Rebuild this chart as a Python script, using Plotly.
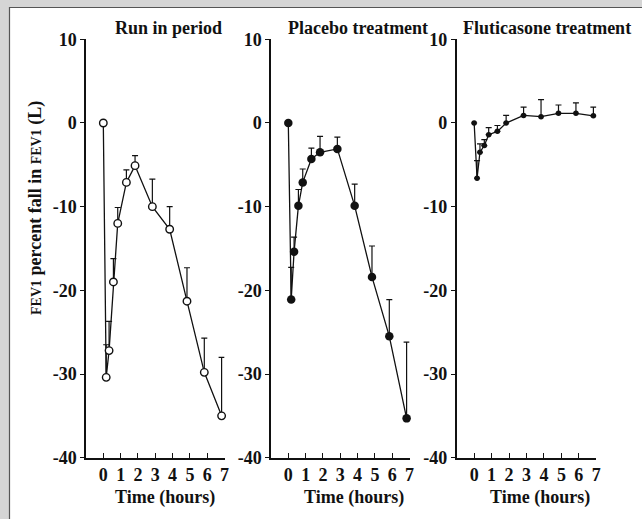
import plotly.graph_objects as go

# ---- data ----
times = [0, 0.167, 0.333, 0.583, 0.833, 1.333, 1.833, 2.833, 3.833, 4.833, 5.833, 6.833]

run_in = [0, -30.4, -27.2, -19.0, -12.0, -7.1, -5.1, -10.0, -12.7, -21.3, -29.8, -35.0]
run_in_err = [0, 3.9, 3.5, 2.8, 1.9, 1.5, 1.2, 3.3, 2.7, 4.0, 4.1, 7.0]

placebo = [0, -21.1, -15.4, -9.9, -7.1, -4.3, -3.5, -3.1, -9.9, -18.4, -25.5, -35.3]
placebo_err = [0, 3.85, 1.75, 1.95, 1.6, 1.3, 1.9, 1.4, 2.6, 3.7, 4.4, 9.1]

fluticasone = [0, -6.6, -3.5, -2.7, -1.4, -1.0, 0.0, 0.9, 0.75, 1.15, 1.15, 0.85]
fluticasone_err = [0, 2.1, 1.0, 0.7, 0.85, 0.7, 0.9, 1.0, 2.05, 1.0, 1.25, 1.05]

panel_titles = ["Run in period", "Placebo treatment", "Fluticasone treatment"]
x_title = "Time (hours)"
x_ticks = [0, 1, 2, 3, 4, 5, 6, 7]
y_ticks = [-40, -30, -20, -10, 0, 10]
y_ticktext = ["-40", "-30", "-20", "-10", "0", "10"]

W, H = 642, 519
FONT = "Liberation Serif"
INK = "#111111"

# pixel geometry of each panel's plotting area (x from -1 to 7)
panels_px = [(86, 224.5), (271, 409.5), (456.7, 596.3)]
title_cx = [169, 357.5, 547]
xtitle_cx = [165, 353.5, 540]
y_top_px, y_bot_px = 39.3, 457.7

fig = go.Figure()

series = [
    (run_in, run_in_err, dict(symbol="circle", size=7.5, color="white", line=dict(width=1.4, color=INK))),
    (placebo, placebo_err, dict(symbol="circle", size=8.5, color=INK, line=dict(width=0))),
    (fluticasone, fluticasone_err, dict(symbol="circle", size=5.5, color=INK, line=dict(width=0))),
]

for i, (vals, errs, marker) in enumerate(series):
    sfx = "" if i == 0 else str(i + 1)
    fig.add_trace(go.Scatter(
        x=times, y=vals, mode="lines+markers",
        xaxis="x" + sfx, yaxis="y" + sfx,
        line=dict(color=INK, width=1.3),
        marker=marker,
        error_y=dict(type="data", symmetric=False, array=errs,
                     arrayminus=[0] * len(errs), color=INK,
                     thickness=1.2, width=3),
        showlegend=False, cliponaxis=False,
    ))

layout = dict(
    template="none",
    width=W, height=H,
    margin=dict(l=0, r=0, t=0, b=0, pad=0),
    paper_bgcolor="#d5d5d5",
    plot_bgcolor="rgba(0,0,0,0)",
    font=dict(family=FONT, color=INK, size=18),
    shapes=[dict(type="rect", xref="paper", yref="paper",
                 x0=9.5 / W, y0=-0.05, x1=1.05, y1=1 - 7.5 / H,
                 fillcolor="white", line=dict(color="#555555", width=1.2),
                 layer="below")],
    annotations=[],
)

yd = [1 - y_bot_px / H, 1 - y_top_px / H]
for i, (x0, x1) in enumerate(panels_px):
    sfx = "" if i == 0 else str(i + 1)
    layout["xaxis" + sfx] = dict(
        domain=[x0 / W, x1 / W], range=[-1, 7], anchor="y" + sfx,
        automargin=False,
        tickvals=x_ticks, ticks="inside", ticklen=5, tickwidth=1.2,
        tickcolor=INK, showline=True, linecolor=INK, linewidth=1.5,
        showgrid=False, zeroline=False,
        tickfont=dict(family=FONT, size=18, color=INK, weight="bold"),
    )
    layout["yaxis" + sfx] = dict(
        domain=yd, range=[-40, 10], anchor="x" + sfx,
        automargin=False,
        tickvals=y_ticks, ticktext=y_ticktext, ticks="outside", ticklen=4,
        tickwidth=1.2, tickcolor=INK, showline=True, linecolor=INK,
        linewidth=1.5, showgrid=False, zeroline=False,
        tickfont=dict(family=FONT, size=18, color=INK, weight="bold"),
    )
    layout["annotations"].append(dict(
        text="<b>" + panel_titles[i] + "</b>", xref="paper", yref="paper",
        x=title_cx[i] / W, y=1 - 28 / H, xanchor="center", yanchor="middle",
        showarrow=False, font=dict(family=FONT, size=18, color=INK)))
    layout["annotations"].append(dict(
        text="<b>" + x_title + "</b>", xref="paper", yref="paper",
        x=xtitle_cx[i] / W, y=1 - 497 / H, xanchor="center", yanchor="middle",
        showarrow=False, font=dict(family=FONT, size=18, color=INK)))

layout["annotations"].append(dict(
    text="<b><span style='font-size:14px'>FEV1</span> percent fall in <span style='font-size:14px'>FEV1</span> (L)</b>",
    xref="paper", yref="paper", x=35 / W, y=1 - 208 / H, textangle=-90,
    xanchor="center", yanchor="middle", showarrow=False,
    font=dict(family=FONT, size=18, color=INK)))

fig.update_layout(**layout)
fig.write_html("out.html", config={"displayModeBar": False},
               post_script="document.body.style.margin='0';document.body.style.background='#d5d5d5';")
